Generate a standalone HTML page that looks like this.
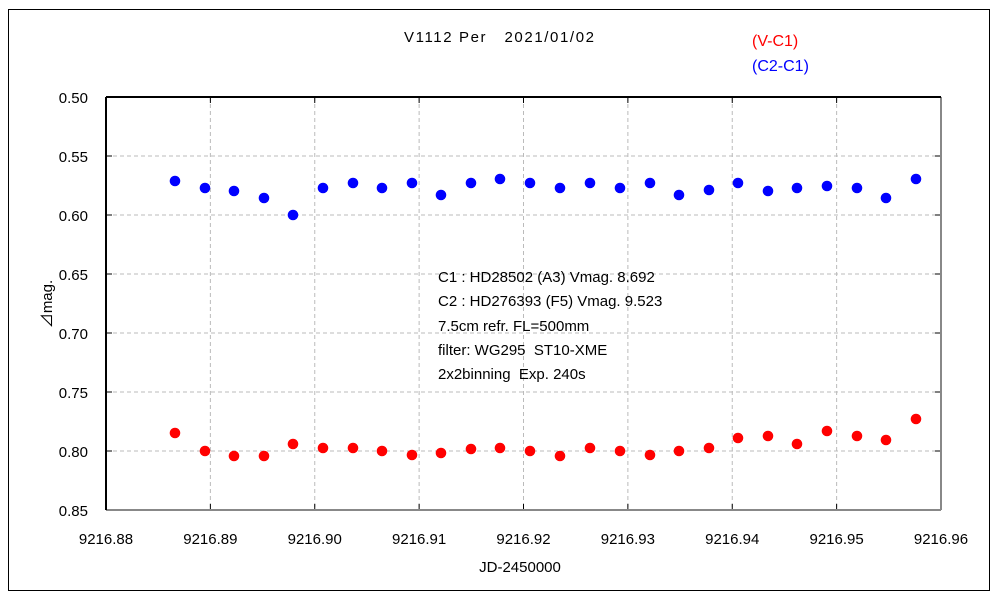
<!DOCTYPE html>
<html><head><meta charset="utf-8"><style>body{margin:0;background:#fff}svg{display:block}text{font-family:"Liberation Sans","Noto Sans CJK JP",sans-serif;white-space:pre}</style></head>
<body><svg id="s" width="1000" height="600" xmlns="http://www.w3.org/2000/svg">
<rect x="0" y="0" width="1000" height="600" fill="#fff"/>
<rect x="8.5" y="9.5" width="981" height="581" fill="none" stroke="#000" stroke-width="1"/>
<g id="g"></g>
<text x="404" y="42" font-size="15" textLength="190">V1112 Per   2021/01/02</text>
<text x="752" y="46" font-size="16" fill="#f00">(V-C1)</text>
<text x="752" y="71" font-size="16" fill="#00f">(C2-C1)</text>
<text font-size="15" x="438" y="282">C1 : HD28502 (A3) Vmag. 8.692</text>
<text font-size="15" x="438" y="306">C2 : HD276393 (F5) Vmag. 9.523</text>
<text font-size="15" x="438" y="331">7.5cm refr. FL=500mm</text>
<text font-size="15" x="438" y="355">filter: WG295  ST10-XME</text>
<text font-size="15" x="438" y="379">2x2binning  Exp. 240s</text>
<text x="520" y="572" font-size="15" text-anchor="middle">JD-2450000</text>
<text x="52" y="304" font-size="15" text-anchor="middle" transform="rotate(-90 52 304)">⊿mag.</text>
</svg>
<script>
var g=document.getElementById('g'),h='';
var L=106,R=941,T=97,B=510;
for(var i=0;i<=8;i++){var x=L+(R-L)*i/8;if(i>0&&i<8)h+='<line x1="'+x+'" y1="'+T+'" x2="'+x+'" y2="'+B+'" stroke="#bbb" stroke-dasharray="4,3"/>';
h+='<line x1="'+x+'" y1="'+T+'" x2="'+x+'" y2="'+(T+6)+'" stroke="#000"/><line x1="'+x+'" y1="'+B+'" x2="'+x+'" y2="'+(B-6)+'" stroke="#000"/>';
h+='<text x="'+x+'" y="544" font-size="15" text-anchor="middle">'+(9216.88+i*0.01).toFixed(2)+'</text>';}
for(var j=0;j<=7;j++){var y=T+(B-T)*j/7;if(j>0&&j<7)h+='<line x1="'+L+'" y1="'+y+'" x2="'+R+'" y2="'+y+'" stroke="#bbb" stroke-dasharray="4,3"/>';
h+='<line x1="'+L+'" y1="'+y+'" x2="'+(L+6)+'" y2="'+y+'" stroke="#000"/><line x1="'+R+'" y1="'+y+'" x2="'+(R-6)+'" y2="'+y+'" stroke="#000"/>';
h+='<text x="88" y="'+(y+6)+'" font-size="15" text-anchor="end">'+(0.5+j*0.05).toFixed(2)+'</text>';}
h+='<line x1="'+L+'" y1="'+B+'" x2="'+R+'" y2="'+B+'" stroke="#888" stroke-width="2"/><line x1="'+R+'" y1="'+T+'" x2="'+R+'" y2="'+B+'" stroke="#888" stroke-width="2"/>';
h+='<line x1="'+L+'" y1="'+T+'" x2="'+R+'" y2="'+T+'" stroke="#000" stroke-width="2"/><line x1="'+L+'" y1="'+T+'" x2="'+L+'" y2="'+B+'" stroke="#000" stroke-width="2"/>';
var xs=[175,205,234,264,293,323,353,382,412,441,471,500,530,560,590,620,650,679,709,738,768,797,827,857,886,916];
var by=[181,188,191,198,215,188,183,188,183,195,183,179,183,188,183,188,183,195,190,183,191,188,186,188,198,179];
var ry=[433,451,456,456,444,448,448,451,455,453,449,448,451,456,448,451,455,451,448,438,436,444,431,436,440,419];
for(var k=0;k<xs.length;k++){h+='<circle cx="'+xs[k]+'" cy="'+by[k]+'" r="5.3" fill="#00f"/><circle cx="'+xs[k]+'" cy="'+ry[k]+'" r="5.3" fill="#f00"/>';}
g.innerHTML=h;
</script></body></html>
